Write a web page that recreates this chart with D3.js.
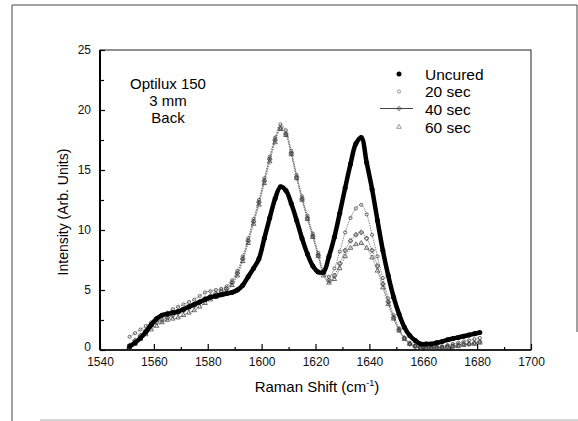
<!DOCTYPE html>
<html>
<head>
<meta charset="utf-8">
<script src="https://cdn.jsdelivr.net/npm/d3@7"></script>
<style>
  body { margin: 0; background: #fff; }
  svg { font-family: "Liberation Sans", Arial, sans-serif; }
</style>
</head>
<body>
<div id="chart"></div>
<script>
// Raman shift grid (cm-1), shared by every series
const shifts = [1551,1553,1555,1557,1559,1561,1563,1565,1567,1569,1571,1573,1575,1577,1579,1581,1583,1585,1587,1589,
  1591,1593,1595,1597,1599,1601,1603,1605,1607,1609,1611,1613,1615,1617,1619,1621,1623,1625,1627,1629,
  1631,1633,1635,1637,1639,1641,1643,1645,1647,1649,1651,1653,1655,1657,1659,1661,1663,1665,1667,1669,
  1671,1673,1675,1677,1679,1681];

const uncured = [0.3,0.6,1.0,1.5,2.1,2.6,2.9,3.0,3.1,3.2,3.4,3.6,3.8,4.0,4.2,4.4,4.5,4.6,4.7,4.8,
  5.0,5.4,6.1,6.8,7.6,9.3,11.0,12.6,13.6,13.3,12.2,10.8,9.3,8.0,7.0,6.5,6.5,7.8,9.4,11.4,
  13.5,15.5,17.2,17.7,15.6,13.4,10.8,8.3,6.2,4.4,3.0,1.9,1.2,0.8,0.5,0.5,0.5,0.6,0.7,0.85,
  0.95,1.05,1.15,1.25,1.35,1.45];

const sec20 = [1.1,1.4,1.7,2.0,2.3,2.6,2.9,3.1,3.4,3.6,3.8,4.0,4.2,4.5,4.8,4.9,5.0,5.1,5.3,5.8,
  6.6,7.8,9.3,10.9,12.5,14.3,16.1,17.7,18.8,18.3,16.6,14.6,12.8,11.2,9.7,8.1,6.6,6.1,6.8,8.2,
  9.8,11.0,11.8,12.1,11.3,9.6,7.8,6.0,4.3,2.9,1.8,1.0,0.6,0.4,0.3,0.3,0.3,0.3,0.3,0.4,
  0.5,0.6,0.7,0.8,0.9,1.0];

const sec40 = [0.4,0.8,1.2,1.6,2.0,2.3,2.5,2.7,2.9,3.1,3.3,3.5,3.7,4.0,4.3,4.5,4.7,4.9,5.1,5.6,
  6.4,7.6,9.1,10.7,12.3,14.1,15.9,17.5,18.5,18.0,16.4,14.4,12.6,11.0,9.5,7.9,6.4,5.8,6.2,7.2,
  8.3,9.1,9.6,9.8,9.3,8.3,7.0,5.5,4.0,2.7,1.7,1.0,0.5,0.3,0.2,0.2,0.2,0.2,0.2,0.3,
  0.3,0.4,0.5,0.5,0.6,0.7];

const sec60 = [0.2,0.5,0.9,1.3,1.7,2.0,2.3,2.5,2.6,2.7,2.9,3.1,3.3,3.6,3.9,4.2,4.4,4.6,4.9,5.4,
  6.2,7.4,8.9,10.5,12.1,13.9,15.7,17.3,18.4,17.9,16.3,14.3,12.5,10.9,9.4,7.8,6.2,5.6,5.9,6.8,
  7.8,8.5,8.8,8.9,8.5,7.7,6.6,5.2,3.8,2.6,1.6,0.9,0.5,0.3,0.2,0.2,0.2,0.2,0.2,0.2,
  0.3,0.3,0.4,0.5,0.5,0.6];

const xTicks = [1540, 1560, 1580, 1600, 1620, 1640, 1660, 1680, 1700];
const yTicks = [0, 5, 10, 15, 20, 25];
const legendLabels = ["Uncured", "20 sec", "40 sec", "60 sec"];
const noteLines = ["Optilux 150", "3 mm", "Back"];

const width = 578, height = 421;
const margin = { top: 50, right: 47, bottom: 71, left: 100 };

const svg = d3.select("#chart").append("svg")
  .attr("width", width)
  .attr("height", height);

// scanned page frame
const frame = svg.append("g").attr("stroke", "#444").attr("stroke-width", 1).attr("fill", "none");
frame.append("line").attr("x1", 12).attr("y1", 5).attr("x2", 577).attr("y2", 5);
frame.append("line").attr("x1", 12).attr("y1", 5).attr("x2", 12).attr("y2", 421);
frame.append("line").attr("x1", 577).attr("y1", 5).attr("x2", 577).attr("y2", 332);
frame.append("line").attr("x1", 40).attr("y1", 420).attr("x2", 578).attr("y2", 420).attr("stroke", "#aaa");

const x = d3.scaleLinear().domain([1540, 1700]).range([margin.left, width - margin.right]);
const y = d3.scaleLinear().domain([0, 25]).range([height - margin.bottom, margin.top]);

// plot box
svg.append("rect")
  .attr("x", x(1540)).attr("y", y(25))
  .attr("width", x(1700) - x(1540)).attr("height", y(0) - y(25))
  .attr("fill", "none").attr("stroke", "#222").attr("stroke-width", 1);
svg.append("line").attr("x1", x(1540)).attr("x2", x(1540)).attr("y1", y(0)).attr("y2", y(25))
  .attr("stroke", "#000").attr("stroke-width", 2);
svg.append("line").attr("x1", x(1540)).attr("x2", x(1700)).attr("y1", y(0)).attr("y2", y(0))
  .attr("stroke", "#000").attr("stroke-width", 1.5);

// axes with inward ticks
svg.append("g")
  .attr("transform", `translate(0,${y(0)})`)
  .call(d3.axisBottom(x).tickValues(xTicks).tickFormat(d3.format("d")).tickSize(-6).tickPadding(7));
const yAxis = svg.append("g")
  .attr("transform", `translate(${x(1540)},0)`)
  .call(d3.axisLeft(y).tickValues(yTicks).tickSize(-5).tickPadding(9));
svg.append("g")
  .attr("transform", `translate(${x(1540)},0)`)
  .call(d3.axisLeft(y).tickValues(d3.range(2.5, 25, 5)).tickSize(-4).tickFormat(""));
svg.append("g")
  .attr("transform", `translate(0,${y(0)})`)
  .call(d3.axisBottom(x).tickValues(d3.range(1550, 1700, 20)).tickSize(-3).tickFormat(""));

svg.selectAll(".domain").remove();
svg.selectAll(".tick line").attr("stroke", "#000").attr("stroke-width", 1.2);
svg.selectAll(".tick text").attr("font-size", 12).attr("fill", "#111")
  .attr("font-family", "Liberation Sans, Arial, sans-serif");
// the zero label sits a little high, clear of 1540
yAxis.selectAll(".tick text").filter(d => d === 0).attr("y", -3);

// axis titles
svg.append("text")
  .attr("transform", `translate(68,212) rotate(-90)`)
  .attr("text-anchor", "middle")
  .attr("font-size", 14)
  .text("Intensity (Arb. Units)");

const xTitle = svg.append("text")
  .attr("x", 317).attr("y", 392)
  .attr("text-anchor", "middle")
  .attr("font-size", 15);
xTitle.append("tspan").text("Raman Shift (cm");
xTitle.append("tspan").attr("dy", -6).attr("font-size", 9).text("-1");
xTitle.append("tspan").attr("dy", 6).text(")");

const line = d3.line().x((d, i) => x(shifts[i])).y(d => y(d)).curve(d3.curveCatmullRom);

// cured series: small grey open markers along thin lines
const cured = [
  { values: sec20, shape: d3.symbolCircle, size: 8 },
  { values: sec40, shape: d3.symbolCross, size: 10 },
  { values: sec60, shape: d3.symbolTriangle, size: 9 }
];

cured.forEach(s => {
  svg.append("path")
    .datum(s.values)
    .attr("d", line)
    .attr("fill", "none")
    .attr("stroke", "#666")
    .attr("stroke-width", 0.8)
    .attr("stroke-dasharray", "1.5,1");
  svg.append("g").selectAll("path")
    .data(s.values)
    .join("path")
    .attr("transform", (d, i) => `translate(${x(shifts[i])},${y(d)})`)
    .attr("d", d3.symbol().type(s.shape).size(s.size))
    .attr("fill", "none")
    .attr("stroke", "#333")
    .attr("stroke-width", 0.7);
});

// uncured: heavy black trace of filled circles
svg.append("path")
  .datum(uncured)
  .attr("d", line)
  .attr("fill", "none")
  .attr("stroke", "#000")
  .attr("stroke-width", 4.5);
svg.append("g").selectAll("circle")
  .data(uncured)
  .join("circle")
  .attr("cx", (d, i) => x(shifts[i]))
  .attr("cy", d => y(d))
  .attr("r", 2.5)
  .attr("fill", "#000");

// note
svg.append("g").selectAll("text")
  .data(noteLines)
  .join("text")
  .attr("x", 168)
  .attr("y", (d, i) => 89 + i * 17)
  .attr("text-anchor", "middle")
  .attr("font-size", 15)
  .text(d => d);

// legend
const legend = svg.append("g");
const rowY = [74, 91.5, 108.5, 127];
const baseY = [79.5, 97, 115, 133];
legend.selectAll("text")
  .data(legendLabels)
  .join("text")
  .attr("x", 425)
  .attr("y", (d, i) => baseY[i])
  .attr("font-size", 15.5)
  .text(d => d);
legend.append("circle").attr("cx", 399).attr("cy", rowY[0]).attr("r", 2.5).attr("fill", "#000");
legend.append("path").attr("transform", `translate(399,${rowY[1]})`)
  .attr("d", d3.symbol().type(d3.symbolCircle).size(8))
  .attr("fill", "none").attr("stroke", "#555").attr("stroke-width", 0.6);
legend.append("line").attr("x1", 380).attr("x2", 413).attr("y1", rowY[2]).attr("y2", rowY[2])
  .attr("stroke", "#444").attr("stroke-width", 1);
legend.append("path").attr("transform", `translate(399,${rowY[2]})`)
  .attr("d", d3.symbol().type(d3.symbolCross).size(10))
  .attr("fill", "none").attr("stroke", "#555").attr("stroke-width", 0.6);
legend.append("path").attr("transform", `translate(399,${rowY[3]})`)
  .attr("d", d3.symbol().type(d3.symbolTriangle).size(9))
  .attr("fill", "none").attr("stroke", "#555").attr("stroke-width", 0.6);
</script>
</body>
</html>
